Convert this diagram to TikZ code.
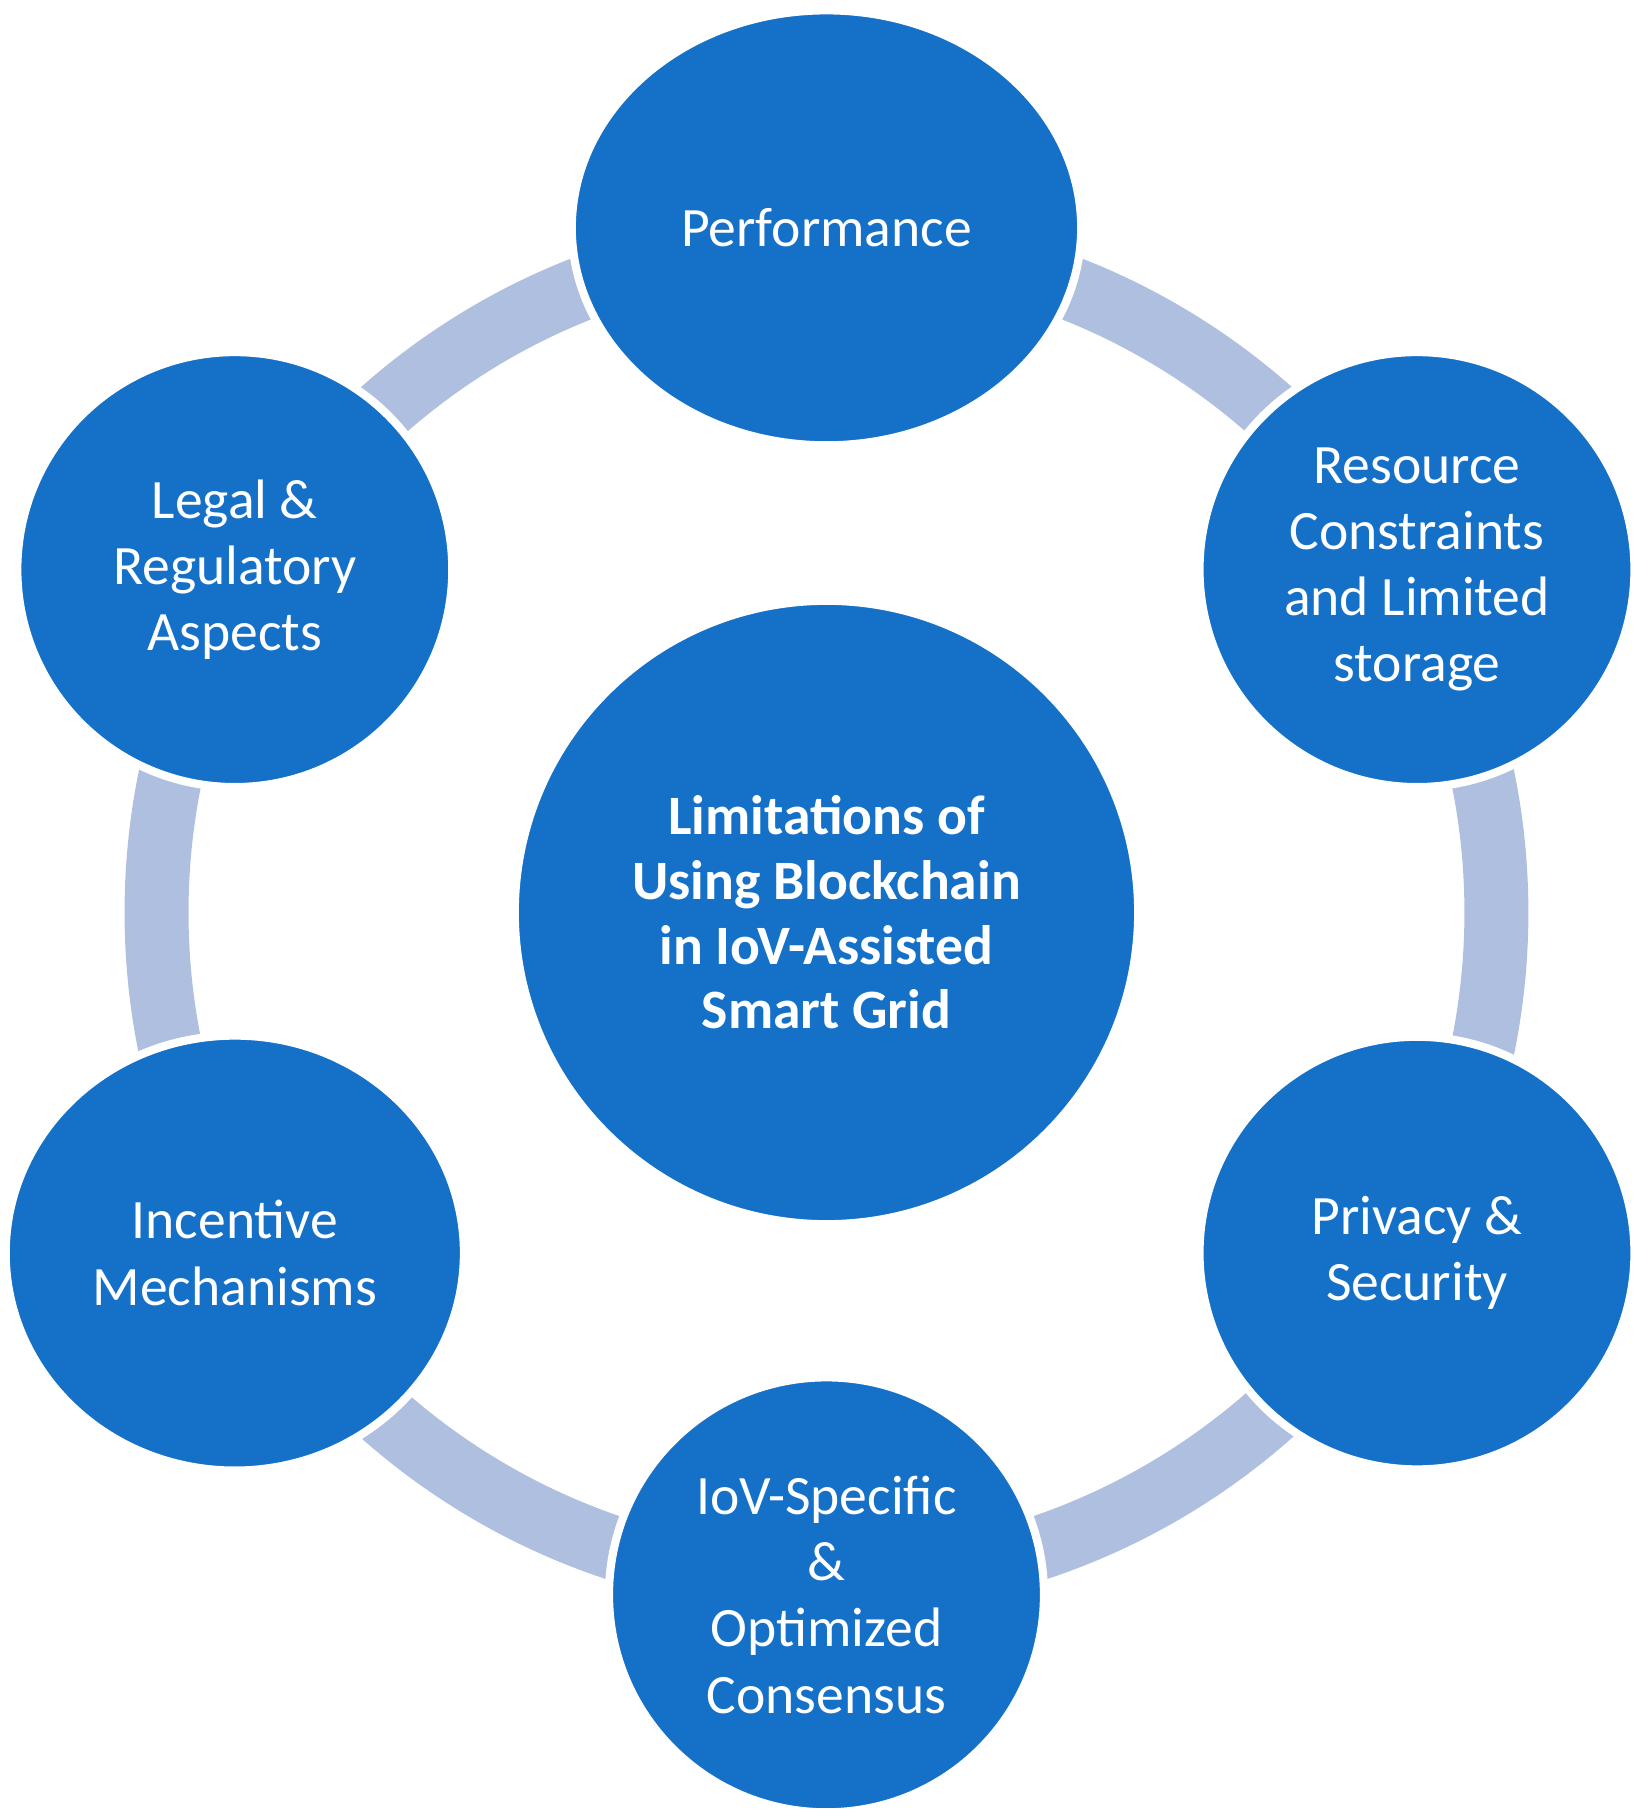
\documentclass[tikz,border=0pt]{standalone}
\usepackage{fontspec}
\setmainfont{Carlito}
\usetikzlibrary{shapes.geometric}
\definecolor{cblue}{HTML}{1570C8}
\definecolor{ring}{HTML}{AFBFE0}
\begin{document}
\begin{tikzpicture}[x=0.01cm,y=-0.01cm,
  bub/.style={ellipse,fill=cblue,draw=white,line width=2pt,text=white,align=center,inner sep=0pt,
    font=\fontsize{13.6pt}{16.2pt}\selectfont}]
\useasboundingbox (0,0) rectangle (1412,1564);
\draw[ring,line width=0.55cm] (711,785) circle[radius=5.76cm];
\node[bub,minimum width=5.36cm,minimum height=5.36cm,font=\fontsize{13.6pt}{15.8pt}\selectfont\bfseries] (c) at (711,785) {Limitations of\\Using Blockchain\\in IoV-Assisted\\Smart Grid};
\node[bub,minimum width=4.38cm,minimum height=3.74cm] (p) at (711,196) {Performance};
\node[bub,minimum width=3.74cm,minimum height=3.74cm] (r) at (1219,490) {Resource\\Constraints\\and Limited\\storage};
\node[bub,minimum width=3.74cm,minimum height=3.72cm] (s) at (1219,1078) {Privacy \&\\Security};
\node[bub,minimum width=3.74cm,minimum height=3.74cm] (i) at (711,1372) {IoV-Specific\\\&\\Optimized\\Consensus};
\node[bub,minimum width=3.94cm,minimum height=3.74cm] (m) at (202,1078) {Incentive\\Mechanisms};
\node[bub,minimum width=3.74cm,minimum height=3.74cm] (l) at (202,490) {Legal \&\\Regulatory\\Aspects};
\end{tikzpicture}
\end{document}
